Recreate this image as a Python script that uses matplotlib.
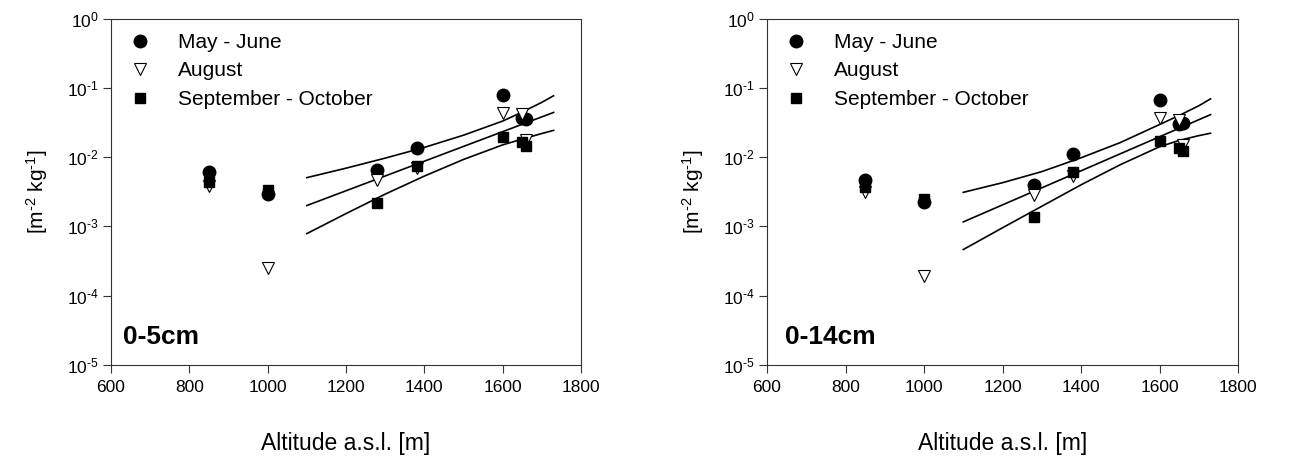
import matplotlib
matplotlib.use("Agg")
import matplotlib.pyplot as plt
from matplotlib.ticker import FixedLocator, NullLocator

plt.rcParams['font.family'] = ['Liberation Sans', 'DejaVu Sans']
plt.rcParams['mathtext.fontset'] = 'custom'
plt.rcParams['mathtext.rm'] = 'Liberation Sans'
plt.rcParams['mathtext.it'] = 'Liberation Sans:italic'
plt.rcParams['mathtext.bf'] = 'Liberation Sans:bold'

# ---------------- data ----------------
altitude = [850, 1000, 1280, 1380, 1600, 1650, 1660]
series_labels = ["May - June", "August", "September - October"]

# 0-5 cm
may_june_05 = [0.0060, 0.0029, 0.0066, 0.0135, 0.079, 0.037, 0.036]
august_05 = [0.0038, 0.00025, 0.0046, 0.0070, 0.0437, 0.042, 0.0174]
sep_oct_05 = [0.0044, 0.0033, 0.0022, 0.0075, 0.0194, 0.0164, 0.0143]

# 0-14 cm
may_june_14 = [0.0046, 0.00225, 0.0040, 0.0110, 0.067, 0.030, 0.031]
august_14 = [0.0031, 0.00019, 0.0028, 0.0053, 0.0365, 0.034, 0.0148]
sep_oct_14 = [0.0037, 0.0025, 0.00136, 0.0061, 0.0170, 0.0136, 0.0123]

# fitted line and confidence band
fit_x = [1100, 1200, 1300, 1400, 1500, 1600, 1650, 1700, 1730]
fit_mid_x = [1100, 1730]

upper_05 = [0.00505, 0.00692, 0.00966, 0.0138, 0.0207, 0.0331, 0.0447, 0.0617, 0.0767]
mid_05 = [0.0020, 0.0441]
lower_05 = [0.000787, 0.00153, 0.00292, 0.00532, 0.00925, 0.0150, 0.0182, 0.0219, 0.0243]

upper_14 = [0.0031, 0.00427, 0.00617, 0.00977, 0.0162, 0.0295, 0.0398, 0.0550, 0.0692]
mid_14 = [0.00116, 0.0410]
lower_14 = [0.000463, 0.000955, 0.00195, 0.00398, 0.00776, 0.0141, 0.0174, 0.0204, 0.0221]

x_ticks = [600, 800, 1000, 1200, 1400, 1600, 1800]
y_ticks = [1e-5, 1e-4, 1e-3, 1e-2, 1e-1, 1e0]
y_tick_labels = [r"$10^{\text{-}5}$", r"$10^{\text{-}4}$", r"$10^{\text{-}3}$",
                 r"$10^{\text{-}2}$", r"$10^{\text{-}1}$", r"$10^{0}$"]
panel_labels = ["0-5cm", "0-14cm"]

# ---------------- figure ----------------
W, H = 1290, 457
fig = plt.figure(figsize=(W / 100, H / 100), dpi=100)
ax1 = fig.add_axes([111 / W, 92 / H, 470 / W, 346.5 / H])
ax2 = fig.add_axes([767 / W, 92 / H, 471 / W, 346.5 / H])

panels = [
    (ax1, may_june_05, august_05, sep_oct_05, upper_05, mid_05, lower_05, panel_labels[0], 0.026),
    (ax2, may_june_14, august_14, sep_oct_14, upper_14, mid_14, lower_14, panel_labels[1], 0.038),
]

for ax, mj, au, so, up, mid, lo, plab, px in panels:
    ax.set_yscale('log')
    ax.plot(fit_x, up, color='black', lw=1.2, zorder=2)
    ax.plot(fit_mid_x, mid, color='black', lw=1.2, zorder=2)
    ax.plot(fit_x, lo, color='black', lw=1.2, zorder=2)
    ax.plot(altitude, mj, linestyle='none', marker='o', ms=9, mfc='black', mec='black',
            label=series_labels[0], zorder=3)
    ax.plot(altitude, au, linestyle='none', marker='v', ms=8.5, mfc='white', mec='black',
            mew=0.8, label=series_labels[1], zorder=4)
    ax.plot(altitude, so, linestyle='none', marker='s', ms=7.5, mfc='black', mec='black',
            label=series_labels[2], zorder=5)

    ax.set_xlim(600, 1800)
    ax.set_ylim(1e-5, 1e0)
    ax.xaxis.set_major_locator(FixedLocator(x_ticks))
    ax.yaxis.set_major_locator(FixedLocator(y_ticks))
    ax.yaxis.set_minor_locator(NullLocator())
    ax.set_yticklabels(y_tick_labels)
    ax.tick_params(axis='both', which='major', direction='out', length=6, width=0.8,
                   labelsize=12.5, color='#333333')
    ax.tick_params(axis='x', pad=5)
    ax.tick_params(axis='y', pad=3)
    for sp in ax.spines.values():
        sp.set_linewidth(0.8)
        sp.set_color('#333333')

    ax.set_xlabel("Altitude a.s.l. [m]", fontsize=16.5)
    ax.xaxis.set_label_coords(0.5, -0.192)
    ax.set_ylabel(r"[m$^{\text{-}2}$ kg$^{\text{-}1}$]", fontsize=15)
    ax.yaxis.set_label_coords(-0.13, 0.5)

    ax.text(px, 0.082, plab, transform=ax.transAxes, fontsize=19, fontweight='bold',
            ha='left', va='center')

    ax.legend(loc='upper left', bbox_to_anchor=(0.04, 0.958), frameon=False,
              fontsize=15, handlelength=1.0, handletextpad=1.3, labelspacing=0.45,
              borderaxespad=0, borderpad=0, numpoints=1)

fig.savefig("out.png", dpi=100)
